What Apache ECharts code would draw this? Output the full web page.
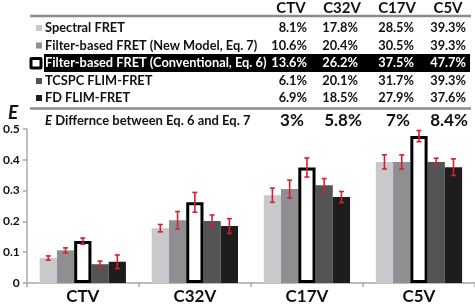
<!DOCTYPE html>
<html>
<head>
<meta charset="utf-8">
<script src="https://cdn.jsdelivr.net/npm/echarts@6/dist/echarts.min.js"></script>
<style>
  html, body { margin: 0; padding: 0; background: #fff; }
  #main { width: 475px; height: 305px; }
</style>
</head>
<body>
<div id="main"></div>
<script>
// categories (constructs)
var categories = ["CTV", "C32V", "C17V", "C5V"];
// series names, same order as the table rows
var seriesNames = [
  "Spectral FRET",
  "Filter-based FRET (New Model, Eq. 7)",
  "Filter-based FRET (Conventional, Eq. 6)",
  "TCSPC FLIM-FRET",
  "FD FLIM-FRET"
];
// FRET efficiency per series
var spectral = [0.081, 0.178, 0.285, 0.393];
var filterNew = [0.106, 0.204, 0.305, 0.393];
var filterConv = [0.136, 0.262, 0.375, 0.477];
var tcspc = [0.061, 0.201, 0.317, 0.393];
var fdFlim = [0.069, 0.185, 0.279, 0.376];
// error bar half widths
var errSpectral = [0.007, 0.012, 0.023, 0.023];
var errFilterNew = [0.008, 0.028, 0.029, 0.023];
var errFilterConv = [0.010, 0.032, 0.031, 0.018];
var errTcspc = [0.010, 0.020, 0.022, 0.012];
var errFdFlim = [0.022, 0.024, 0.018, 0.027];
var yTicks = [0, 0.1, 0.2, 0.3, 0.4, 0.5];

var allValues = [spectral, filterNew, filterConv, tcspc, fdFlim];
var allErrors = [errSpectral, errFilterNew, errFilterConv, errTcspc, errFdFlim];
var colors = ["#c9c9cd", "#8f8f93", "#ffffff", "#525456", "#1d1d1d"];
var catGap = 0.23;
var font = "Lato, 'Open Sans', sans-serif";

var chart = echarts.init(document.getElementById("main"));

// bar series
var series = [];
for (var i = 0; i < 5; i++) {
  series.push({
    name: seriesNames[i],
    type: "bar",
    barGap: "0%",
    barCategoryGap: catGap * 100 + "%",
    data: allValues[i],
    itemStyle: i == 2
      ? { color: "#fff", borderColor: "#000", borderWidth: 3 }
      : { color: colors[i] },
    z: i == 2 ? 3 : 2,
    silent: true
  });
}

// error bars as a custom series
var errData = [];
for (var s = 0; s < 5; s++) {
  for (var c = 0; c < categories.length; c++) {
    var v = allValues[s][c], e = allErrors[s][c];
    errData.push([c, v - e, v + e, s]);
  }
}
series.push({
  type: "custom",
  z: 10,
  silent: true,
  data: errData,
  renderItem: function(params, api) {
    var cat = api.value(0);
    var s = api.value(3);
    var band = api.size([1, 0])[0];
    var groupW = band * (1 - catGap);
    var bw = groupW / 5;
    var xc = api.coord([cat, 0])[0] - groupW / 2 + bw * (s + 0.5);
    var lo = api.coord([cat, api.value(1)])[1];
    var hi = api.coord([cat, api.value(2)])[1];
    var cap = 2.5;
    var st = { stroke: "#d6202e", lineWidth: 1.6 };
    return {
      type: "group",
      children: [
        { type: "line", shape: { x1: xc, y1: lo, x2: xc, y2: hi }, style: st },
        { type: "line", shape: { x1: xc - cap, y1: lo, x2: xc + cap, y2: lo }, style: st },
        { type: "line", shape: { x1: xc - cap, y1: hi, x2: xc + cap, y2: hi }, style: st }
      ]
    };
  }
});

// table above the plot
function pct(v) {
  return (v * 100).toFixed(1) + "%";
}
function diffPct(a, b) {
  return Math.round((a - b) * 1000) / 10 + "%";
}
var colCenter = [291, 342, 397, 448];
var colRight = [307, 358, 414, 466];
var rowY = [28, 45.5, 63, 81, 98];
var graphic = [];

// rules
graphic.push({ type: "line", shape: { x1: 30, y1: 16, x2: 471, y2: 16 }, style: { stroke: "#8c8c8c", lineWidth: 2.5 } });
graphic.push({ type: "line", shape: { x1: 30, y1: 108.5, x2: 471, y2: 108.5 }, style: { stroke: "#8c8c8c", lineWidth: 2.5 } });
// highlighted row
graphic.push({ type: "rect", shape: { x: 44, y: 54, width: 426, height: 18 }, style: { fill: "#000" } });

// header
for (var c = 0; c < categories.length; c++) {
  graphic.push({
    type: "text", x: colCenter[c], y: 8,
    style: { text: categories[c], font: "bold 15px " + font, fill: "#111", align: "center", verticalAlign: "middle" }
  });
}
// rows
for (var r = 0; r < 5; r++) {
  var txtColor = r == 2 ? "#fff" : "#111";
  if (r == 2) {
    graphic.push({ type: "rect", shape: { x: 29.5, y: 57, width: 13, height: 12.5, r: 2 }, style: { fill: "#000" } });
    graphic.push({ type: "rect", shape: { x: 32.5, y: 60, width: 7, height: 6.5 }, style: { fill: "#fff" } });
  } else {
    graphic.push({ type: "rect", shape: { x: 36, y: rowY[r] - 3, width: 6, height: 6 }, style: { fill: colors[r] } });
  }
  graphic.push({
    type: "text", x: 45, y: rowY[r],
    style: { text: seriesNames[r], font: "bold 12.8px " + font, fill: txtColor, verticalAlign: "middle" }
  });
  for (var c = 0; c < categories.length; c++) {
    graphic.push({
      type: "text", x: colRight[c], y: rowY[r],
      style: { text: pct(allValues[r][c]), font: "bold 12.8px " + font, fill: txtColor, align: "right", verticalAlign: "middle" }
    });
  }
}
// difference row
graphic.push({
  type: "text", x: 45, y: 121,
  style: {
    text: "{i|E} Differnce between Eq. 6 and Eq. 7",
    font: "bold 13px " + font, fill: "#111", verticalAlign: "middle",
    rich: { i: { font: "italic bold 13px " + font, fill: "#111" } }
  }
});
for (var c = 0; c < categories.length; c++) {
  graphic.push({
    type: "text", x: colCenter[c] + 1, y: 121,
    style: { text: diffPct(filterConv[c], filterNew[c]), font: "bold 17px " + font, fill: "#111", align: "center", verticalAlign: "middle" }
  });
}
// y axis title
graphic.push({
  type: "text", x: 13, y: 113,
  style: { text: "E", font: "italic bold 19px " + font, fill: "#111", align: "center", verticalAlign: "middle" }
});

var option = {
  animation: false,
  grid: { left: 25, right: 0, top: 129, bottom: 21 },
  xAxis: {
    type: "category",
    data: categories,
    axisLine: { lineStyle: { color: "#a8a8a8", width: 1.5 } },
    axisTick: { show: true, length: 4, lineStyle: { color: "#a8a8a8", width: 1.5 } },
    axisLabel: { color: "#111", fontFamily: font, fontWeight: "bold", fontSize: 17, margin: 5 }
  },
  yAxis: {
    type: "value",
    min: yTicks[0],
    max: yTicks[yTicks.length - 1],
    interval: 0.1,
    axisLine: { show: true, lineStyle: { color: "#a8a8a8", width: 1.5 } },
    axisTick: { show: true, length: 4, lineStyle: { color: "#a8a8a8", width: 1.5 } },
    splitLine: { show: false },
    axisLabel: { color: "#111", fontFamily: font, fontWeight: "bold", fontSize: 12, margin: 7 }
  },
  graphic: graphic,
  series: series
};
chart.setOption(option);
</script>
</body>
</html>
